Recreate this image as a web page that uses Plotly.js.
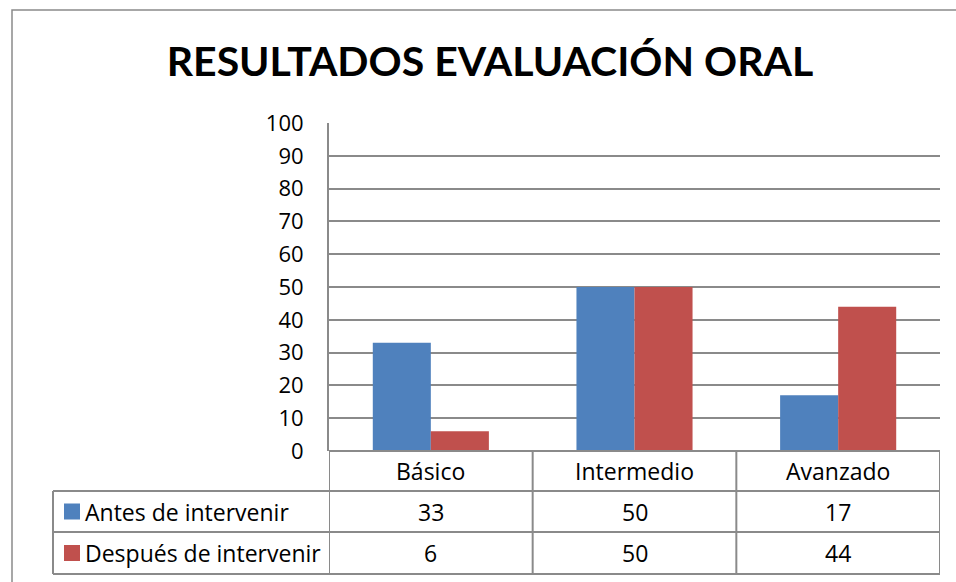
<!DOCTYPE html>
<html><head><meta charset="utf-8">
<script src="https://cdn.plot.ly/plotly-3.0.1.min.js"></script>
<style>html,body{margin:0;padding:0;background:#fff}#c{width:956px;height:582px}</style>
</head><body><div id="c"></div>
<script>
const categories = ["Básico", "Intermedio", "Avanzado"];
const seriesNames = ["Antes de intervenir", "Después de intervenir"];
const antes = [33, 50, 17];
const despues = [6, 50, 44];
const colors = ["#4F81BD", "#C0504D"];
const yTicks = [0,10,20,30,40,50,60,70,80,90,100];
const titleText = "RESULTADOS EVALUACIÓN ORAL";

const W = 956, H = 582;
const L = 329, R = 940, T = 123, B = 451;
const pw = R - L, ph = B - T;
const px = v => (v - L) / pw;      // pixel x -> paper
const py = v => (B - v) / ph;      // pixel y -> paper
const gridC = "#8a8a8a";
const titleFont = "Lato, 'Open Sans', sans-serif";
const font = "'Open Sans', Lato, sans-serif";

const seriesVals = [antes, despues];
const traces = seriesVals.map((vals, i) => ({
  type: "bar", x: categories, y: vals, name: seriesNames[i],
  marker: {color: colors[i]}, showlegend: false, hoverinfo: "x+y"
}));

const shapes = [];
const annotations = [];
shapes.push({type:"rect", xref:"paper", yref:"paper", x0:px(12), x1:px(1000), y0:py(10), y1:py(700),
  line:{color:"#8a8a8a", width:1.5}, fillcolor:"rgba(0,0,0,0)", layer:"below"});
const rowY = [451, 491, 532, 574];
const leftX = 53;
shapes.push({type:"line", xref:"paper", yref:"paper", x0:0, x1:1, y0:py(rowY[0]), y1:py(rowY[0]), line:{color:gridC, width:2}});
for (let r = 1; r < rowY.length; r++) {
  shapes.push({type:"line", xref:"paper", yref:"paper", x0:px(leftX), x1:1, y0:py(rowY[r]), y1:py(rowY[r]), line:{color:gridC, width:2}});
}
for (let k = 0; k <= categories.length; k++) {
  shapes.push({type:"line", xref:"x", yref:"paper", x0:k-0.5, x1:k-0.5, y0:py(rowY[0]), y1:py(rowY[3]), line:{color:gridC, width:2}});
}
shapes.push({type:"line", xref:"paper", yref:"paper", x0:px(leftX), x1:px(leftX), y0:py(rowY[1]), y1:py(rowY[3]), line:{color:gridC, width:2}});

const fs = 23;
categories.forEach((c, k) => {
  annotations.push({xref:"x", yref:"paper", x:k, y:py((rowY[0]+rowY[1])/2), text:c, showarrow:false,
    xanchor:"center", yanchor:"middle", font:{family:font, size:fs, color:"#000"}});
});
seriesVals.forEach((vals, i) => {
  const yc = py((rowY[i+1] + rowY[i+2]) / 2);
  vals.forEach((v, k) => {
    annotations.push({xref:"x", yref:"paper", x:k, y:yc, text:String(v), showarrow:false,
      xanchor:"center", yanchor:"middle", font:{family:font, size:fs, color:"#000"}});
  });
  shapes.push({type:"rect", xref:"paper", yref:"paper", x0:px(64), x1:px(80), y0:py((rowY[i+1]+rowY[i+2])/2 - 8), y1:py((rowY[i+1]+rowY[i+2])/2 + 8),
    fillcolor:colors[i], line:{width:0}});
  annotations.push({xref:"paper", yref:"paper", x:px(83), y:yc, text:seriesNames[i], showarrow:false,
    xanchor:"left", yanchor:"middle", font:{family:font, size:fs, color:"#000"}});
});

const layout = {
  width: W, height: H,
  margin: {l: L, r: W - R, t: T, b: H - B, pad: 0},
  paper_bgcolor: "#fff", plot_bgcolor: "#fff",
  title: {text: "<b>" + titleText + "</b>", x: 490/W, xanchor: "center", xref: "container",
    y: 1 - 62/H, yref: "container", yanchor: "middle",
    font: {family: titleFont, size: 41, color: "#000"}},
  barmode: "group", bargap: 0.43, bargroupgap: 0,
  xaxis: {type: "category", showticklabels: false, showgrid: false, zeroline: false, showline: false, ticks: "", range: [-0.5, 2.5], fixedrange: true},
  yaxis: {range: [0, 100], tickvals: yTicks, ticktext: yTicks.map(String), showgrid: true, gridcolor: gridC, gridwidth: 2,
    showline: true, linecolor: gridC, linewidth: 2, zeroline: false, ticks: "", ticklabelstandoff: 19,
    tickfont: {family: font, size: 22, color: "#000"}, fixedrange: true},
  shapes: shapes, annotations: annotations
};
Plotly.newPlot("c", traces, layout, {displayModeBar: false, staticPlot: true});
</script></body></html>
